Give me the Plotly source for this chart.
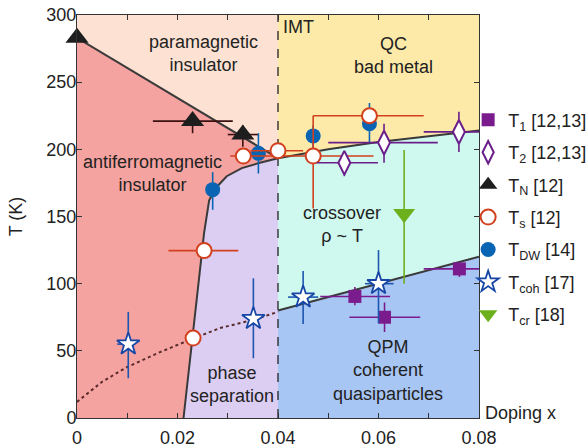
import numpy as np
import plotly.graph_objects as go

# ---------------- data ----------------
# boundary lines
neel_x = [0.0, 0.040]
neel_T = [283, 193.4]

upper_x = [0.040, 0.050, 0.060, 0.070, 0.080]
upper_T = [193.4, 200, 205.5, 210, 214]

ps_x = [0.0212, 0.0220, 0.0230, 0.0238, 0.0250, 0.0253, 0.0263, 0.0278, 0.0298, 0.0328, 0.0364, 0.040]
ps_T = [0, 26, 60, 88, 125, 138, 162, 172, 180, 186, 190, 193.4]

qpm_x = [0.040, 0.080]
qpm_T = [80, 120]

dot_x = [0.0, 0.005, 0.010, 0.0165, 0.023, 0.0285, 0.035, 0.040]
dot_T = [12, 27, 38, 49, 59, 67, 73, 79]

imt_x = [0.040, 0.040]
imt_T = [0, 300]

# data series: value, lower bound, upper bound
T1_x = [0.0553, 0.0612, 0.0761]
T1_T = [90.5, 75, 111]
T1_xlo = [0.0484, 0.0542, 0.0690]
T1_xhi = [0.0623, 0.0683, 0.0830]
T1_Tlo = [84, 64, 105]
T1_Thi = [97.5, 86, 116]

T2_x = [0.0532, 0.0611, 0.0760]
T2_T = [190, 205, 213]
T2_xlo = [0.0477, 0.0500, 0.0690]
T2_xhi = [0.0599, 0.0718, 0.0830]
T2_Tlo = [180, 190, 198]
T2_Thi = [198, 219, 228]

TN_x = [0.0, 0.023, 0.033]
TN_T = [283, 221, 211]
TN_xlo = [0.0, 0.0151, 0.0300]
TN_xhi = [0.0, 0.0310, 0.0360]
TN_Tlo = [283, 212, 202]
TN_Thi = [283, 227, 218]

Ts_x = [0.0231, 0.0253, 0.0331, 0.0400, 0.0470, 0.0582]
Ts_T = [59.5, 124.6, 195, 199, 195, 225]
Ts_xlo = [0.0231, 0.0182, 0.0305, 0.0345, 0.0410, 0.0470]
Ts_xhi = [0.0231, 0.0321, 0.0390, 0.0450, 0.0590, 0.0690]
Ts_Tlo = [59.5, 124.6, 195, 199, 156, 225]
Ts_Thi = [59.5, 124.6, 195, 199, 225, 225]

TDW_x = [0.0270, 0.0361, 0.0470, 0.0582]
TDW_T = [170, 197, 210, 219]
TDW_Tlo = [155, 182, 200, 205]
TDW_Thi = [183, 212, 218, 234.5]

Tcoh_x = [0.0102, 0.0351, 0.0450, 0.0600]
Tcoh_T = [55, 74, 90, 100]
Tcoh_xlo = [0.0080, 0.0351, 0.0420, 0.0573]
Tcoh_xhi = [0.0115, 0.0351, 0.0480, 0.0630]
Tcoh_Tlo = [29.6, 44.5, 70, 70.7]
Tcoh_Thi = [79, 104, 109.5, 125]

Tcr_x = [0.0651]
Tcr_T = [152]
Tcr_Tlo = [100]
Tcr_Thi = [199.5]

x_ticks = [0, 0.02, 0.04, 0.06, 0.08]
x_ticktext = ["0", "0.02", "0.04", "0.06", "0.08"]
y_ticks = [0, 50, 100, 150, 200, 250, 300]

# ---------------- styles ----------------
C_PARA = "#FDE2D3"
C_QC = "#FEEAA8"
C_AFM = "#F5A3A0"
C_PS = "#DCCEF3"
C_CROSS = "#CFF8EE"
C_QPM = "#A8C6F4"
TXT = "#222222"
FONT = "Liberation Sans, Arial, Helvetica, sans-serif"

fig = go.Figure()


def poly(xs, ys, color):
    fig.add_trace(go.Scatter(x=xs, y=ys, fill="toself", fillcolor=color, mode="none",
                             line=dict(width=0), showlegend=False, hoverinfo="skip"))


# background regions
poly([0, 0.04, 0.04, 0], [0, 0, 300, 300], C_PARA)
poly([0.04, 0.08, 0.08, 0.04], [0, 0, 300, 300], C_QC)
poly([0] + neel_x + [0.04], [0] + neel_T + [0], C_AFM)
poly(ps_x + [0.04], ps_T + [0], C_PS)
poly([0.04] + upper_x + [0.08], [0] + upper_T + [0], C_CROSS)
poly([0.04] + qpm_x + [0.08], [0] + qpm_T + [0], C_QPM)


def line(xs, ys, color, width, dash="solid"):
    fig.add_trace(go.Scatter(x=xs, y=ys, mode="lines", line=dict(color=color, width=width, dash=dash),
                             showlegend=False, hoverinfo="skip"))


line(imt_x, imt_T, "#222222", 1.3, "dash")
line(dot_x, dot_T, "#5a2b2b", 2, "dot")
line(neel_x, neel_T, "#3a3a3a", 2)
line(upper_x, upper_T, "#3a3a3a", 2)
line(ps_x, ps_T, "#3a3a3a", 2)
line(qpm_x, qpm_T, "#3a3a3a", 2)


def err(vals, lo, hi):
    v = np.array(vals, float)
    return dict(plus=(np.array(hi, float) - v), minus=(v - np.array(lo, float)))


def series(name, xs, ts, marker, color, rank, xlo=None, xhi=None, tlo=None, thi=None):
    kw = {}
    if xlo is not None:
        e = err(xs, xlo, xhi)
        kw["error_x"] = dict(type="data", symmetric=False, array=e["plus"], arrayminus=e["minus"],
                             color=color, thickness=1.6, width=0)
    if tlo is not None:
        e = err(ts, tlo, thi)
        kw["error_y"] = dict(type="data", symmetric=False, array=e["plus"], arrayminus=e["minus"],
                             color=color, thickness=1.6, width=0)
    fig.add_trace(go.Scatter(x=xs, y=ts, mode="markers", name=name, marker=marker,
                             legendrank=rank, legendgroup=name, cliponaxis=False, **kw))


series("T<sub>DW</sub> [14]", TDW_x, TDW_T,
       dict(symbol="circle", size=15, color="#0A64B4", line=dict(width=0)), "#0A64B4", 5,
       tlo=TDW_Tlo, thi=TDW_Thi)
series("T<sub>N</sub> [12]", TN_x, TN_T,
       dict(symbol="triangle-up", size=20, color="#1e1e1e", line=dict(width=0)), "#3a1010", 3,
       TN_xlo, TN_xhi, TN_Tlo, TN_Thi)
series("T<sub>s</sub> [12]", Ts_x, Ts_T,
       dict(symbol="circle", size=15, color="white", line=dict(width=2, color="#D2401E")), "#D2401E", 4,
       Ts_xlo, Ts_xhi, Ts_Tlo, Ts_Thi)
series("T<sub>1</sub> [12,13]", T1_x, T1_T,
       dict(symbol="square", size=13, color="#7B1C8E", line=dict(width=0)), "#7B1C8E", 1,
       T1_xlo, T1_xhi, T1_Tlo, T1_Thi)
series("T<sub>2</sub> [12,13]", T2_x, T2_T,
       dict(symbol="diamond-tall", size=17, color="white", line=dict(width=2, color="#6A1E8A")), "#6A1E8A", 2,
       T2_xlo, T2_xhi, T2_Tlo, T2_Thi)
series("T<sub>coh</sub> [17]", Tcoh_x, Tcoh_T,
       dict(symbol="star", size=17, color="white", line=dict(width=1.8, color="#1747A6")), "#1D56B0", 6,
       Tcoh_xlo, Tcoh_xhi, Tcoh_Tlo, Tcoh_Thi)
series("T<sub>cr</sub> [18]", Tcr_x, Tcr_T,
       dict(symbol="triangle-down", size=19, color="#6DB01E", line=dict(width=0)), "#6DB01E", 7,
       tlo=Tcr_Tlo, thi=Tcr_Thi)

# region labels
labels = [
    ("paramagnetic<br>insulator", 0.0251, 271),
    ("QC<br>bad metal", 0.0630, 270),
    ("antiferromagnetic<br>insulator", 0.0151, 181.7),
    ("crossover<br>ρ ~ T", 0.0528, 144.4),
    ("phase<br>separation", 0.0308, 25.3),
    ("QPM<br>coherent<br>quasiparticles", 0.0618, 35.7),
]
for txt, lx, ly in labels:
    fig.add_annotation(x=lx, y=ly, text=txt, showarrow=False, xanchor="center", yanchor="middle",
                       font=dict(size=18, color=TXT, family=FONT))
fig.add_annotation(x=0.0405, y=291.4, text="IMT", showarrow=False, xanchor="left", yanchor="middle",
                   font=dict(size=18, color=TXT, family=FONT))
fig.add_annotation(x=1, xref="paper", y=0, yref="y", text="Doping x", showarrow=False,
                   xanchor="left", yanchor="bottom", xshift=4, yshift=-7,
                   font=dict(size=18, color=TXT, family=FONT))

fig.update_xaxes(range=[0, 0.08], tickvals=x_ticks, ticktext=x_ticktext, ticks="inside", ticklen=5,
                 tickwidth=1, tickcolor="#333", showline=True, linecolor="#333", linewidth=1, mirror="ticks",
                 showgrid=False, zeroline=False, tickfont=dict(size=18, color=TXT, family=FONT),
                 ticklabelstandoff=3,
                 minor=dict(dtick=0.01, ticks="inside", ticklen=5, tickcolor="#333", showgrid=False))
fig.update_yaxes(range=[0, 300], tickvals=y_ticks, ticks="inside", ticklen=5, tickwidth=1, tickcolor="#333",
                 showline=True, linecolor="#333", linewidth=1, mirror="ticks", showgrid=False, zeroline=False,
                 tickfont=dict(size=18, color=TXT, family=FONT), ticklabelstandoff=-4,
                 title=dict(text="T (K)", font=dict(size=18, color=TXT, family=FONT), standoff=19))

fig.update_layout(
    width=587, height=448,
    margin=dict(l=77, r=108, t=15, b=30, autoexpand=False),
    paper_bgcolor="white", plot_bgcolor="white",
    font=dict(family=FONT, size=18, color=TXT),
    legend=dict(x=0.973, xanchor="left", y=0.785, yanchor="top", bgcolor="rgba(0,0,0,0)",
                font=dict(size=18, color=TXT, family=FONT), itemwidth=30, tracegroupgap=6,
                traceorder="grouped"),
    showlegend=True,
)

fig.write_html("out.html", config={"displayModeBar": False},
               post_script="document.body.style.margin='0';document.body.style.padding='0';"
                           "document.body.style.overflow='hidden';")
